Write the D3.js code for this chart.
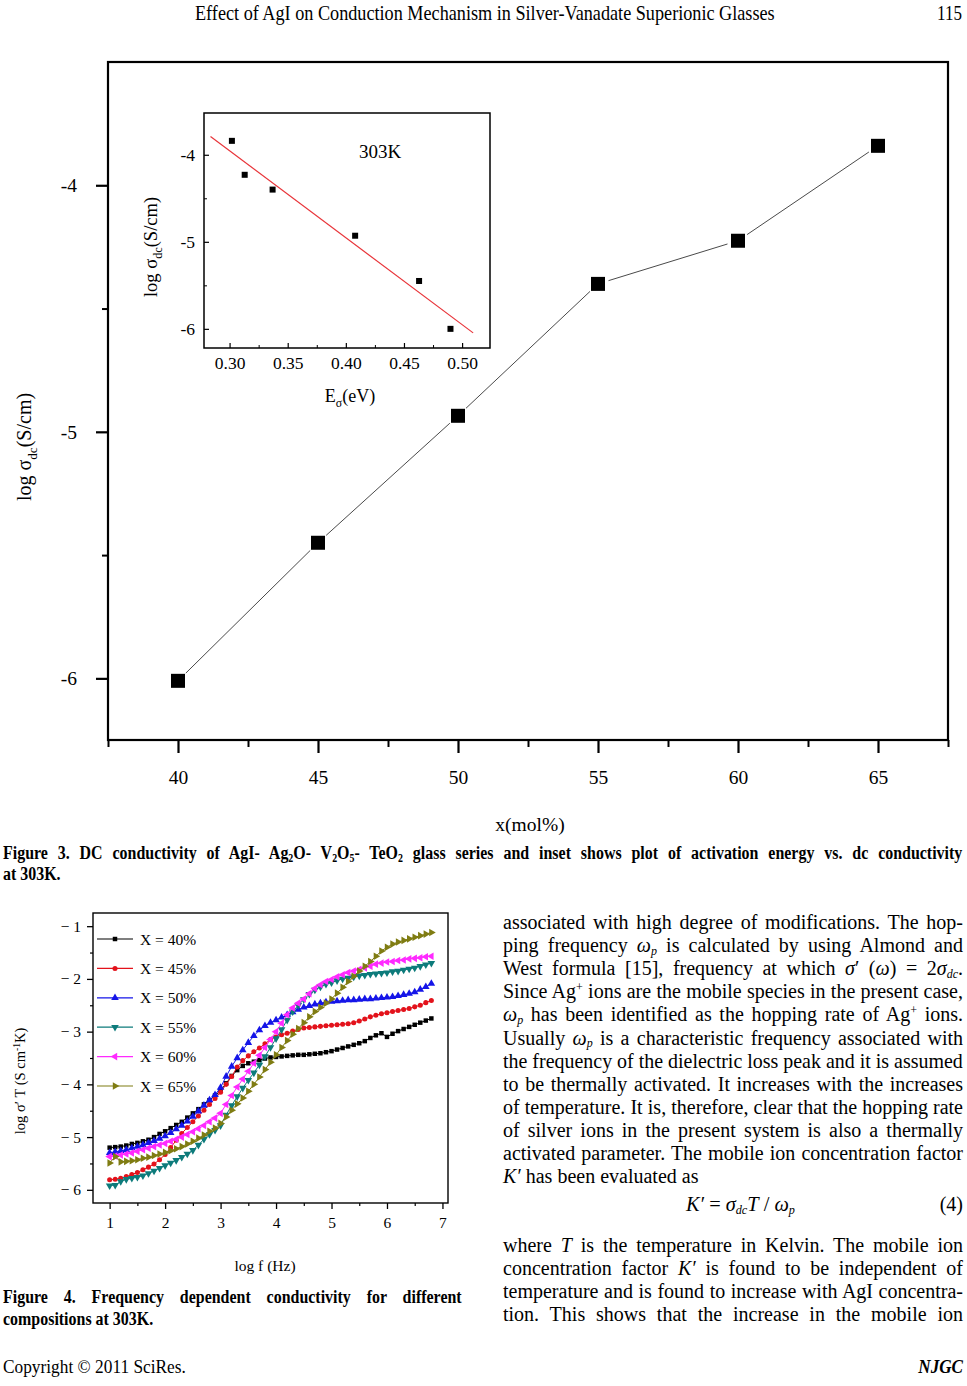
<!DOCTYPE html>
<html><head><meta charset="utf-8">
<script src="https://cdn.jsdelivr.net/npm/d3@7"></script>
<style>html,body{margin:0;padding:0;background:#fff}svg{display:block}</style>
</head><body>
<script>
// ---------------- Figure 3 (main) ----------------
const agiMol = [40, 45, 50, 55, 60, 65];
const logSigmaDC = [-6.01, -5.45, -4.935, -4.40, -4.225, -3.84];
const mainXTicks = [40, 45, 50, 55, 60, 65];
const mainXMinor = [37.5, 42.5, 47.5, 52.5, 57.5, 62.5, 67.5];
const mainYTicks = [-6, -5, -4];
const mainYMinor = [-5.5, -4.5];
// ---------------- Figure 3 (inset) ----------------
const activationEnergy = [0.302, 0.313, 0.337, 0.408, 0.463, 0.490];
const insetLogSigma = [-3.84, -4.23, -4.40, -4.93, -5.45, -6.00];
const insetFitRange = [0.2836, 0.5095];
const insetXTicks = [0.30, 0.35, 0.40, 0.45, 0.50];
const insetXMinor = [0.325, 0.375, 0.425, 0.475];
const insetYTicks = [-6, -5, -4];
const insetYMinor = [-5.5, -4.5];
// ---------------- Figure 4 ----------------
const logFreq = [1.0,1.1,1.2,1.3,1.4,1.5,1.6,1.7,1.8,1.9,
                 2.0,2.1,2.2,2.3,2.4,2.5,2.6,2.7,2.8,2.9,
                 3.0,3.1,3.2,3.3,3.4,3.5,3.6,3.7,3.8,3.9,
                 4.0,4.1,4.2,4.3,4.4,4.5,4.6,4.7,4.8,4.9,
                 5.0,5.1,5.2,5.3,5.4,5.5,5.6,5.7,5.8,5.9,
                 6.0,6.1,6.2,6.3,6.4,6.5,6.6,6.7,6.8];
const x40 = [-5.20,-5.19,-5.18,-5.16,-5.13,-5.11,-5.08,-5.05,-5.00,-4.94,
             -4.89,-4.83,-4.77,-4.71,-4.63,-4.55,-4.47,-4.38,-4.30,-4.21,
             -4.12,-3.98,-3.84,-3.73,-3.65,-3.60,-3.57,-3.54,-3.51,-3.49,
             -3.48,-3.47,-3.46,-3.45,-3.44,-3.44,-3.43,-3.42,-3.41,-3.39,
             -3.37,-3.34,-3.31,-3.28,-3.25,-3.22,-3.18,-3.12,-3.07,-3.03,
             -3.10,-3.04,-2.99,-2.95,-2.91,-2.87,-2.83,-2.79,-2.75];
const x45 = [-5.81,-5.80,-5.78,-5.75,-5.71,-5.67,-5.62,-5.57,-5.51,-5.43,
             -5.33,-5.20,-5.06,-4.93,-4.82,-4.71,-4.60,-4.49,-4.38,-4.27,
             -4.15,-4.00,-3.85,-3.67,-3.55,-3.46,-3.38,-3.31,-3.23,-3.15,
             -3.10,-3.06,-3.03,-2.99,-2.96,-2.93,-2.92,-2.91,-2.90,-2.89,
             -2.88,-2.87,-2.86,-2.85,-2.83,-2.80,-2.76,-2.72,-2.69,-2.66,
             -2.64,-2.62,-2.60,-2.58,-2.56,-2.53,-2.50,-2.45,-2.41];
const x50 = [-5.30,-5.28,-5.26,-5.24,-5.21,-5.18,-5.15,-5.11,-5.07,-5.03,
             -4.98,-4.92,-4.85,-4.78,-4.70,-4.61,-4.51,-4.40,-4.30,-4.20,
             -4.06,-3.85,-3.66,-3.50,-3.35,-3.21,-3.08,-2.97,-2.89,-2.83,
             -2.78,-2.73,-2.68,-2.63,-2.58,-2.54,-2.51,-2.48,-2.46,-2.44,
             -2.43,-2.42,-2.41,-2.40,-2.40,-2.39,-2.38,-2.38,-2.37,-2.36,
             -2.35,-2.34,-2.32,-2.30,-2.28,-2.25,-2.20,-2.15,-2.09];
const x55 = [-5.92,-5.91,-5.84,-5.80,-5.78,-5.76,-5.73,-5.69,-5.64,-5.59,
             -5.54,-5.49,-5.44,-5.38,-5.32,-5.25,-5.15,-5.04,-4.95,-4.87,
             -4.78,-4.58,-4.40,-4.23,-4.07,-3.92,-3.78,-3.63,-3.47,-3.30,
             -3.13,-2.96,-2.78,-2.62,-2.50,-2.39,-2.29,-2.21,-2.15,-2.10,
             -2.07,-2.03,-2.00,-1.98,-1.96,-1.94,-1.93,-1.91,-1.90,-1.89,
             -1.88,-1.86,-1.85,-1.83,-1.81,-1.79,-1.76,-1.73,-1.70];
const x60 = [-5.37,-5.36,-5.34,-5.32,-5.30,-5.27,-5.24,-5.21,-5.18,-5.15,
             -5.12,-5.08,-5.04,-5.00,-4.95,-4.90,-4.84,-4.78,-4.71,-4.64,
             -4.55,-4.38,-4.21,-4.05,-3.90,-3.75,-3.60,-3.45,-3.30,-3.15,
             -3.00,-2.84,-2.68,-2.55,-2.46,-2.38,-2.28,-2.18,-2.11,-2.05,
             -2.01,-1.96,-1.92,-1.88,-1.85,-1.82,-1.79,-1.76,-1.72,-1.70,
             -1.68,-1.67,-1.65,-1.64,-1.62,-1.61,-1.60,-1.58,-1.57];
const x65 = [-5.49,-5.37,-5.47,-5.46,-5.45,-5.43,-5.40,-5.38,-5.35,-5.32,
             -5.29,-5.26,-5.22,-5.18,-5.13,-5.08,-5.02,-4.96,-4.89,-4.83,
             -4.74,-4.62,-4.49,-4.37,-4.26,-4.13,-4.00,-3.86,-3.72,-3.58,
             -3.44,-3.30,-3.17,-3.05,-2.94,-2.83,-2.72,-2.62,-2.54,-2.46,
             -2.38,-2.27,-2.16,-2.05,-1.95,-1.85,-1.76,-1.67,-1.57,-1.47,
             -1.40,-1.34,-1.30,-1.27,-1.24,-1.21,-1.18,-1.15,-1.12];
const seriesNames = ["X = 40%", "X = 45%", "X = 50%", "X = 55%", "X = 60%", "X = 65%"];
const fig4XTicks = [1, 2, 3, 4, 5, 6, 7];
const fig4XMinor = [1.5, 2.5, 3.5, 4.5, 5.5, 6.5];
const fig4YTicks = [-6, -5, -4, -3, -2, -1];
const fig4YMinor = [-5.5, -4.5, -3.5, -2.5, -1.5];

// ---------------- helpers ----------------
const SERIF = "'Liberation Serif','Times New Roman',serif";
const svg = d3.select('body').append('svg').attr('width', 967).attr('height', 1386);
svg.append('rect').attr('width', 967).attr('height', 1386).attr('fill', '#fff');

function parseRich(str) {
  const segs = []; let it = false, buf = '';
  const flush = () => { if (buf) { segs.push({t: buf, it, kind: null}); buf = ''; } };
  for (let i = 0; i < str.length; i++) {
    const ch = str[i];
    if (ch === '*') { flush(); it = !it; continue; }
    if ((ch === '_' || ch === '^') && str[i + 1] === '{') {
      flush();
      const j = str.indexOf('}', i);
      segs.push({t: str.slice(i + 2, j), it, kind: ch === '_' ? 'sub' : 'sup'});
      i = j; continue;
    }
    buf += ch;
  }
  flush();
  return segs;
}
function rich(t, str, fs, subShift, subSize) {
  let shift = 0, plain = '';
  parseRich(str).forEach(s => {
    const sp = t.append('tspan').text(s.t);
    if (s.it) sp.attr('font-style', 'italic');
    const target = s.kind === 'sub' ? subShift * fs : s.kind === 'sup' ? -0.38 * fs : 0;
    if (target !== shift) { sp.attr('dy', target - shift); shift = target; }
    if (s.kind) sp.attr('font-size', subSize * fs);
    plain += s.t;
  });
  return plain;
}
function textLine(parent, c) {
  const fs = c.fs;
  const t = parent.append('text')
    .attr('font-family', SERIF).attr('font-size', fs)
    .attr('font-weight', c.bold ? 'bold' : null)
    .attr('font-style', c.italic ? 'italic' : null)
    .attr('fill', '#000').style('white-space', 'pre');
  const plain = rich(t, c.str, fs, c.subShift ?? 0.28, c.subSize ?? 0.66);
  const nat = t.node().getComputedTextLength();
  let sx = c.sx || 1, ws = 0;
  if (c.mode === 'fit') sx = c.width / nat;
  if (c.mode === 'justify') {
    const n = (plain.match(/ /g) || []).length;
    ws = n ? (c.width / sx - nat) / n : 0;
    if (ws < 0) { sx = c.width / nat; ws = 0; }
    if (ws) t.style('word-spacing', ws + 'px');
  }
  const w = nat * sx;
  let dx = 0;
  if (c.anchor === 'middle') dx = -w / 2;
  if (c.anchor === 'end') dx = -w;
  const rot = c.rotate ? ' rotate(-90)' : '';
  t.attr('transform', `translate(${c.x},${c.y})${rot} translate(${dx},0) scale(${sx},1)`);
  return t;
}
function styleAxis(g, fs, sw) {
  g.select('.domain').remove();
  g.selectAll('.tick line').attr('stroke', '#000').attr('stroke-width', sw);
  g.selectAll('.tick text').attr('font-family', SERIF).attr('font-size', fs).attr('fill', '#000');
}

// ---------------- header ----------------
textLine(svg, {x: 195, y: 20, fs: 20, mode: 'fit', width: 580,
  str: "Effect of AgI on Conduction Mechanism in Silver-Vanadate Superionic Glasses"});
textLine(svg, {x: 962, y: 20, fs: 20, sx: 0.85, anchor: 'end', str: "115"});

// ---------------- Figure 3 main ----------------
const x3 = d3.scaleLinear().domain([37.5, 67.5]).range([108, 948]);
const y3 = d3.scaleLinear().domain([-6.25, -3.5]).range([740, 62]);
const main = svg.append('g');
main.append('g').attr('transform', `translate(0,${y3(-6.25)})`)
  .call(d3.axisBottom(x3).tickValues(mainXMinor).tickSize(7).tickFormat(''))
  .call(g => styleAxis(g, 19.5, 2));
main.append('g').attr('transform', `translate(0,${y3(-6.25)})`)
  .call(d3.axisBottom(x3).tickValues(mainXTicks).tickSize(13).tickPadding(17).tickFormat(d => String(d)))
  .call(g => styleAxis(g, 19.5, 2.2));
main.append('g').attr('transform', `translate(${x3(37.5)},0)`)
  .call(d3.axisLeft(y3).tickValues(mainYMinor).tickSize(6).tickFormat(''))
  .call(g => styleAxis(g, 19.5, 2));
main.append('g').attr('transform', `translate(${x3(37.5)},0)`)
  .call(d3.axisLeft(y3).tickValues(mainYTicks).tickSize(12).tickPadding(19).tickFormat(d => String(d)))
  .call(g => styleAxis(g, 19.5, 2.2));
main.append('rect')
  .attr('x', x3(37.5)).attr('y', y3(-3.5))
  .attr('width', x3(67.5) - x3(37.5)).attr('height', y3(-6.25) - y3(-3.5))
  .attr('fill', 'none').attr('stroke', '#000').attr('stroke-width', 2.2);

const mainPts = agiMol.map((d, i) => [x3(d), y3(logSigmaDC[i])]);
main.selectAll('line.seg').data(d3.pairs(mainPts)).join('line').attr('class', 'seg')
  .each(function ([a, b]) {
    const dx = b[0] - a[0], dy = b[1] - a[1], L = Math.hypot(dx, dy), gp = 11;
    d3.select(this).attr('x1', a[0] + dx / L * gp).attr('y1', a[1] + dy / L * gp)
      .attr('x2', b[0] - dx / L * gp).attr('y2', b[1] - dy / L * gp);
  })
  .attr('stroke', '#4a4a4a').attr('stroke-width', 1);
main.selectAll('rect.pt').data(mainPts).join('rect').attr('class', 'pt')
  .attr('x', d => d[0] - 7).attr('y', d => d[1] - 7).attr('width', 14).attr('height', 14)
  .attr('fill', '#000');

textLine(main, {x: 31, y: 447, fs: 20, rotate: true, anchor: 'middle', str: "log σ_{dc}(S/cm)"});
textLine(main, {x: 530, y: 831, fs: 19.5, anchor: 'middle', str: "x(mol%)"});

// ---------------- Figure 3 inset ----------------
const xi = d3.scaleLinear().domain([0.278, 0.524]).range([204, 490]);
const yi = d3.scaleLinear().domain([-6.22, -3.52]).range([348, 113]);
const ins = svg.append('g');
ins.append('rect')
  .attr('x', xi(0.278)).attr('y', yi(-3.52))
  .attr('width', xi(0.524) - xi(0.278)).attr('height', yi(-6.22) - yi(-3.52))
  .attr('fill', '#fff');
ins.append('g').attr('transform', `translate(0,${yi(-6.22)})`)
  .call(d3.axisBottom(xi).tickValues(insetXMinor).tickSize(-3).tickFormat(''))
  .call(g => styleAxis(g, 17.5, 1));
ins.append('g').attr('transform', `translate(0,${yi(-6.22)})`)
  .call(d3.axisBottom(xi).tickValues(insetXTicks).tickSize(-5).tickPadding(9).tickFormat(d3.format('.2f')))
  .call(g => styleAxis(g, 17.5, 1.2));
ins.append('g').attr('transform', `translate(${xi(0.278)},0)`)
  .call(d3.axisLeft(yi).tickValues(insetYMinor).tickSize(-3).tickFormat(''))
  .call(g => styleAxis(g, 17.5, 1));
ins.append('g').attr('transform', `translate(${xi(0.278)},0)`)
  .call(d3.axisLeft(yi).tickValues(insetYTicks).tickSize(-5).tickPadding(9).tickFormat(d => String(d)))
  .call(g => styleAxis(g, 17.5, 1.2));
ins.append('rect')
  .attr('x', xi(0.278)).attr('y', yi(-3.52))
  .attr('width', xi(0.524) - xi(0.278)).attr('height', yi(-6.22) - yi(-3.52))
  .attr('fill', 'none').attr('stroke', '#000').attr('stroke-width', 1.5);
// least-squares fit of the inset points
const mx = d3.mean(activationEnergy), my = d3.mean(insetLogSigma);
const slope = d3.sum(activationEnergy, (d, i) => (d - mx) * (insetLogSigma[i] - my)) /
              d3.sum(activationEnergy, d => (d - mx) * (d - mx));
const icpt = my - slope * mx;
ins.append('line')
  .attr('x1', xi(insetFitRange[0])).attr('y1', yi(icpt + slope * insetFitRange[0]))
  .attr('x2', xi(insetFitRange[1])).attr('y2', yi(icpt + slope * insetFitRange[1]))
  .attr('stroke', '#e8353a').attr('stroke-width', 1.2);
ins.selectAll('rect.ipt').data(activationEnergy).join('rect').attr('class', 'ipt')
  .attr('x', d => xi(d) - 3).attr('y', (d, i) => yi(insetLogSigma[i]) - 3)
  .attr('width', 6).attr('height', 6).attr('fill', '#000');
textLine(ins, {x: 380, y: 158, fs: 19, anchor: 'middle', str: "303K"});
textLine(ins, {x: 157, y: 247, fs: 18.5, rotate: true, anchor: 'middle', str: "log σ_{dc}(S/cm)"});
textLine(ins, {x: 350, y: 402, fs: 18, anchor: 'middle', str: "E_{σ}(eV)"});

// ---------------- caption 3 ----------------
textLine(svg, {x: 3, y: 859, fs: 19, bold: true, sx: 0.84, mode: 'justify', width: 960, subShift: 0.15, subSize: 0.62,
  str: "Figure 3. DC conductivity of AgI- Ag_{2}O- V_{2}O_{5}- TeO_{2} glass series and inset shows plot of activation energy vs. dc conductivity"});
textLine(svg, {x: 3, y: 880, fs: 19, bold: true, sx: 0.84, str: "at 303K."});

// ---------------- Figure 4 ----------------
const x4 = d3.scaleLinear().domain([0.7, 7.1]).range([93, 448]);
const y4 = d3.scaleLinear().domain([-6.25, -0.75]).range([1203, 913]);
const f4 = svg.append('g');
f4.append('g').attr('transform', `translate(0,${y4(-6.25)})`)
  .call(d3.axisBottom(x4).tickValues(fig4XMinor).tickSize(3).tickFormat(''))
  .call(g => styleAxis(g, 15.5, 1.2));
f4.append('g').attr('transform', `translate(0,${y4(-6.25)})`)
  .call(d3.axisBottom(x4).tickValues(fig4XTicks).tickSize(6).tickPadding(8).tickFormat(d => String(d)))
  .call(g => styleAxis(g, 15.5, 1.3));
f4.append('g').attr('transform', `translate(${x4(0.7)},0)`)
  .call(d3.axisLeft(y4).tickValues(fig4YMinor).tickSize(3).tickFormat(''))
  .call(g => styleAxis(g, 15.5, 1.2));
f4.append('g').attr('transform', `translate(${x4(0.7)},0)`)
  .call(d3.axisLeft(y4).tickValues(fig4YTicks).tickSize(6).tickPadding(6).tickFormat(d => '\u2212 ' + Math.abs(d)))
  .call(g => styleAxis(g, 15.5, 1.3));
f4.append('rect')
  .attr('x', x4(0.7)).attr('y', y4(-0.75))
  .attr('width', x4(7.1) - x4(0.7)).attr('height', y4(-6.25) - y4(-0.75))
  .attr('fill', 'none').attr('stroke', '#000').attr('stroke-width', 1.4);

const fig4Series = [x40, x45, x50, x55, x60, x65];
const colors = ["#000000", "#e3121b", "#1515e8", "#0d7b7b", "#ff2aff", "#7f7c12"];
const markers = [
  {type: d3.symbolSquare, size: 20, rot: 0},
  {type: d3.symbolCircle, size: 20, rot: 0},
  {type: d3.symbolTriangle, size: 25, rot: 0},
  {type: d3.symbolTriangle, size: 25, rot: 180},
  {type: d3.symbolTriangle, size: 25, rot: -90},
  {type: d3.symbolTriangle, size: 25, rot: 90}];
const line4 = d3.line().x((d, i) => x4(logFreq[i])).y(d => y4(d));
fig4Series.forEach((vals, k) => {
  const g = f4.append('g');
  g.append('path').attr('d', line4(vals)).attr('fill', 'none')
    .attr('stroke', colors[k]).attr('stroke-width', 1);
  const sym = d3.symbol().type(markers[k].type).size(markers[k].size)();
  g.selectAll('path.m').data(vals).join('path').attr('class', 'm').attr('d', sym)
    .attr('transform', (d, i) => `translate(${x4(logFreq[i])},${y4(d)}) rotate(${markers[k].rot})`)
    .attr('fill', colors[k]);
});
// legend
seriesNames.forEach((name, k) => {
  const ly = 939 + k * 29.4;
  const g = f4.append('g');
  g.append('line').attr('x1', 97).attr('x2', 133).attr('y1', ly).attr('y2', ly)
    .attr('stroke', colors[k]).attr('stroke-width', 1.2);
  g.append('path').attr('d', d3.symbol().type(markers[k].type).size(markers[k].size)())
    .attr('transform', `translate(115,${ly}) rotate(${markers[k].rot})`).attr('fill', colors[k]);
  textLine(g, {x: 140, y: ly + 5.5, fs: 15.5, str: name});
});
textLine(f4, {x: 25, y: 1081, fs: 14.5, rotate: true, anchor: 'middle', str: "log σ′ T (S cm^{-1}K)"});
textLine(f4, {x: 265, y: 1271, fs: 15.5, anchor: 'middle', str: "log f (Hz)"});

// ---------------- caption 4 ----------------
textLine(svg, {x: 3, y: 1303, fs: 19, bold: true, sx: 0.84, mode: 'justify', width: 459,
  str: "Figure 4. Frequency dependent conductivity for different"});
textLine(svg, {x: 3, y: 1325, fs: 19, bold: true, sx: 0.84, str: "compositions at 303K."});

// ---------------- right column text ----------------
const BODY = {fs: 20, subShift: 0.13, subSize: 0.6};
const bodyLines = [
  "associated with high degree of modifications. The hop-",
  "ping frequency *ω_{p}* is calculated by using Almond and",
  "West formula [15], frequency at which *σ*′ (*ω*) = 2*σ_{dc}*.",
  "Since Ag^{+} ions are the mobile species in the present case,",
  "*ω_{p}* has been identified as the hopping rate of Ag^{+} ions.",
  "Usually *ω_{p}* is a characteristic frequency associated with",
  "the frequency of the dielectric loss peak and it is assumed",
  "to be thermally activated. It increases with the increases",
  "of temperature. It is, therefore, clear that the hopping rate",
  "of silver ions in the present system is also a thermally",
  "activated parameter. The mobile ion concentration factor"];
bodyLines.forEach((s, i) => textLine(svg, {...BODY, x: 503, y: 929 + i * 23.1, mode: 'justify', width: 460, str: s}));
textLine(svg, {...BODY, x: 503, y: 929 + 11 * 23.1, str: "*K′* has been evaluated as"});
textLine(svg, {...BODY, x: 686, y: 1211, mode: 'fit', width: 109, str: "*K′* = *σ_{dc}T* / *ω_{p}*"});
textLine(svg, {...BODY, x: 963, y: 1211, anchor: 'end', str: "(4)"});
const bodyLines2 = [
  "where *T* is the temperature in Kelvin. The mobile ion",
  "concentration factor *K′* is found to be independent of",
  "temperature and is found to increase with AgI concentra-"];
bodyLines2.forEach((s, i) => textLine(svg, {...BODY, x: 503, y: 1252 + i * 23.1, mode: 'justify', width: 460, str: s}));
textLine(svg, {...BODY, x: 503, y: 1252 + 3 * 23.1, mode: 'justify', width: 460,
  str: "tion. This shows that the increase in the mobile ion"});

// ---------------- footer ----------------
textLine(svg, {x: 3, y: 1373, fs: 19, mode: 'fit', width: 183, str: "Copyright © 2011 SciRes."});
textLine(svg, {x: 963, y: 1373, fs: 19, sx: 0.9, bold: true, italic: true, anchor: 'end', str: "NJGC"});
</script>
</body></html>
